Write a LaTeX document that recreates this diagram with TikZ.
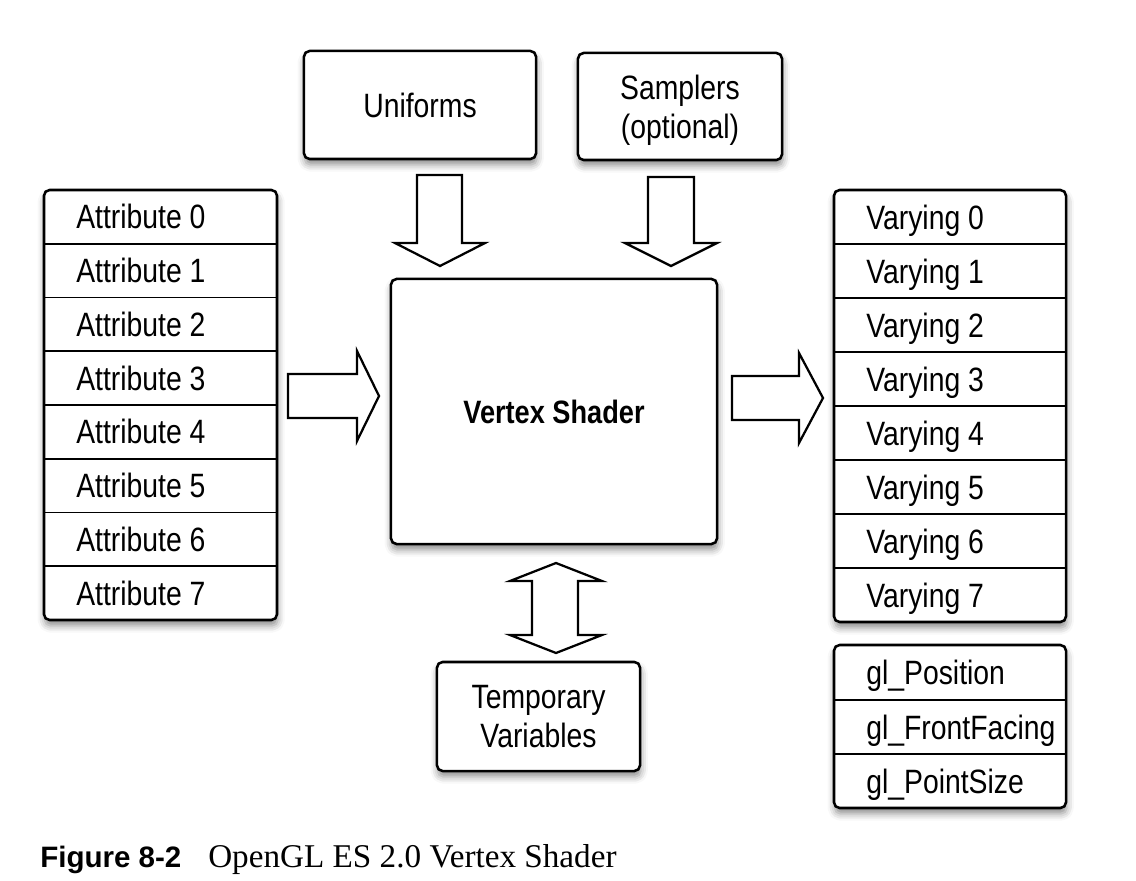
\documentclass[tikz,border=0pt]{standalone}
\usepackage{fontspec}
\setmainfont[FakeStretch=0.84]{Liberation Sans}
\newfontfamily\capsans{Liberation Sans}
\newfontfamily\capserif{Liberation Serif}
\usetikzlibrary{shadows.blur}

\tikzset{
  boxshadow/.style={blur shadow={shadow xshift=0.5pt, shadow yshift=-4pt, shadow blur radius=5pt, shadow opacity=45}},
  inbox/.style={draw, line width=1.8pt, rounded corners=4pt, fill=white, boxshadow, inner sep=0pt, outer sep=0pt, align=center, font=\fontsize{24}{28}\selectfont},
  listframe/.style={draw, line width=1.8pt, rounded corners=4pt, fill=white, boxshadow},
  rowline/.style={line width=1.2pt},
  rowtext/.style={anchor=west, inner sep=0pt, text height=17.2pt, text depth=0pt, font=\fontsize{24}{28}\selectfont},
  blockarrow/.style={draw, line width=1.6pt, fill=white, line join=miter}
}

\begin{document}
\begin{tikzpicture}[x=0.025cm, y=-0.025cm]
    \useasboundingbox (0,0) rectangle (1136,880);

    % Input boxes on top
    \node[inbox, minimum width=5.8cm, minimum height=2.7cm] (uniforms) at (420,105) {Uniforms};
    \node[inbox, minimum width=5.1cm, minimum height=2.675cm, text depth=0pt] (samplers) at (680,106.5) {Samplers\\(optional)};

    % Shader and temporaries
    \node[inbox, minimum width=8.15cm, minimum height=6.625cm, font=\fontsize{23}{27}\selectfont\bfseries] (shader) at (554,411.5) {Vertex Shader};
    \node[inbox, minimum width=5.075cm, minimum height=2.725cm, text depth=0pt] (temps) at (538.5,716.5) {Temporary\\Variables};

    % Attribute list
    \draw[listframe] (44,190) rectangle (277,620);
    \foreach \i in {1,...,7}
        \draw[rowline] (44,{190+53.75*\i}) -- (277,{190+53.75*\i});
    \foreach \i in {0,...,7}
        \node[rowtext] (attr\i) at (76,{190+53.75*(\i+0.5)}) {Attribute \i};

    % Varying list
    \draw[listframe] (834,190) rectangle (1066,622);
    \foreach \i in {1,...,7}
        \draw[rowline] (834,{190+54*\i}) -- (1066,{190+54*\i});
    \foreach \i in {0,...,7}
        \node[rowtext] (vary\i) at (866,{190+54*(\i+0.5)}) {Varying \i};

    % Built-in outputs
    \draw[listframe] (834,645) rectangle (1066,808);
    \draw[rowline] (834,700) -- (1066,700);
    \draw[rowline] (834,754) -- (1066,754);
    \node[rowtext] (glpos) at (866,672.5) {gl\_Position};
    \node[rowtext] (glface) at (866,727) {gl\_FrontFacing};
    \node[rowtext] (glsize) at (866,781) {gl\_PointSize};

    % Block arrows
    \draw[blockarrow] (417,175) -- (462,175) -- (462,243) -- (485,243) -- (440,266) -- (395,243) -- (417,243) -- cycle;
    \draw[blockarrow] (648,177) -- (694,177) -- (694,243) -- (717,243) -- (671,266) -- (625,243) -- (648,243) -- cycle;
    \draw[blockarrow] (288,374) -- (357,374) -- (357,351) -- (379,396) -- (357,441) -- (357,418) -- (288,418) -- cycle;
    \draw[blockarrow] (732,376) -- (799,376) -- (799,353) -- (823,398) -- (799,443) -- (799,420) -- (732,420) -- cycle;
    \draw[blockarrow] (556,563) -- (602,581) -- (578,581) -- (578,635) -- (602,635) -- (556,653) -- (510,635) -- (532,635) -- (532,581) -- (510,581) -- cycle;

    % Caption
    \node[anchor=base west, inner sep=0pt, font=\capsans\fontsize{21}{25}\selectfont\bfseries] (figno) at (40,867) {Figure 8-2};
    \node[anchor=base west, inner sep=0pt, font=\capserif\fontsize{23.6}{27}\selectfont] (figtitle) at (208,867) {OpenGL ES 2.0 Vertex Shader};
\end{tikzpicture}
\end{document}
